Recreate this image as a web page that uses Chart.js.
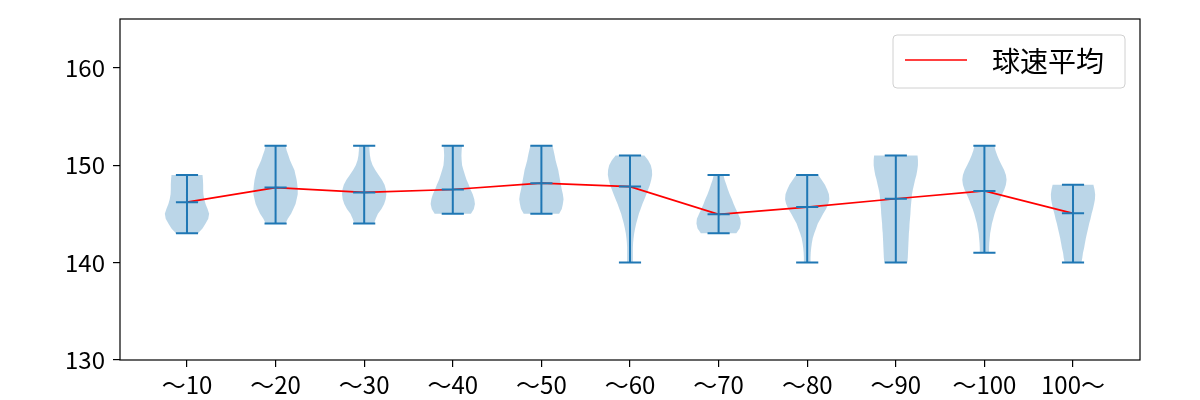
<!DOCTYPE html>
<html><head><meta charset="utf-8">
<script src="https://cdn.jsdelivr.net/npm/chart.js@4.4.1/dist/chart.umd.min.js"></script>
<style>html,body{margin:0;padding:0;background:#fff}</style>
</head><body>
<canvas id="c" width="1200" height="400"></canvas>
<script>
const categories = ['～10','～20','～30','～40','～50','～60','～70','～80','～90','～100','100～'];
const speedMin  = [143,144,144,145,145,140,143,140,140,141,140];
const speedMax  = [149,152,152,152,152,151,149,149,151,152,148];
const speedMean = [146.2,147.7,147.2,147.5,148.15,147.8,144.95,145.7,146.55,147.35,145.05];
const yTicks = [130,140,150,160];
const densityStep = 0.5;
// relative density (1 = widest) from min to max in 0.5 km/h steps
const density10  = [0.5,0.7,0.84,0.96,1.0,0.93,0.84,0.78,0.74,0.73,0.73,0.72,0.7];
const density20  = [0.45,0.55,0.7,0.8,0.9,0.95,1.0,1.0,0.98,0.95,0.9,0.85,0.75,0.65,0.58,0.5,0.45];
const density30  = [0.45,0.52,0.62,0.78,0.9,0.97,1.0,0.98,0.92,0.8,0.65,0.5,0.38,0.3,0.26,0.24,0.23];
const density40  = [0.82,0.95,1.0,0.97,0.9,0.8,0.72,0.62,0.55,0.48,0.42,0.4,0.39,0.4,0.42];
const density50  = [0.8,0.92,0.97,1.0,0.97,0.92,0.88,0.84,0.8,0.76,0.7,0.64,0.6,0.55,0.5];
const density60  = [0.13,0.13,0.13,0.13,0.14,0.16,0.19,0.23,0.28,0.34,0.4,0.48,0.56,0.65,0.74,0.82,0.9,0.96,1.0,0.99,0.94,0.82,0.65];
const density70  = [0.8,0.95,1.0,0.98,0.88,0.78,0.68,0.6,0.5,0.42,0.35,0.27,0.22];
const density80  = [0.15,0.15,0.16,0.18,0.21,0.25,0.32,0.4,0.48,0.6,0.72,0.85,0.95,1.0,0.98,0.9,0.8,0.65,0.5];
const density90  = [0.52,0.54,0.55,0.56,0.57,0.58,0.59,0.61,0.62,0.64,0.66,0.67,0.69,0.71,0.73,0.77,0.82,0.87,0.93,0.97,1.0,1.0,0.98];
const density100 = [0.21,0.21,0.22,0.24,0.26,0.3,0.34,0.4,0.46,0.53,0.62,0.7,0.8,0.9,0.97,1.0,0.97,0.89,0.78,0.67,0.58,0.5,0.45];
const densityOver= [0.38,0.42,0.45,0.5,0.54,0.58,0.63,0.68,0.73,0.79,0.84,0.9,0.95,0.99,1.0,0.97,0.92];
const densities = [density10,density20,density30,density40,density50,density60,density70,density80,density90,density100,densityOver];

const HALF = 0.25, CAP = 0.125;
const BLUE = '#1f77b4';
const FONT = '"Noto Sans CJK JP", "Noto Sans", sans-serif';

// violin polygons
const violinSets = densities.map((d, i) => {
  const c = i + 1, pts = [];
  d.forEach((w, k) => pts.push({x: c + w * HALF, y: speedMin[i] + k * densityStep}));
  for (let k = d.length - 1; k >= 0; k--) pts.push({x: c - d[k] * HALF, y: speedMin[i] + k * densityStep});
  return {type:'scatter', violin:true, data:pts, showLine:false, pointRadius:0, pointHoverRadius:0,
          backgroundColor:'rgba(31,119,180,0.3)', borderWidth:0};
});
// vertical bars and caps
const capPts = [];
categories.forEach((_, i) => {
  const c = i + 1, gap = {x:null, y:null};
  capPts.push({x:c, y:speedMin[i]}, {x:c, y:speedMax[i]}, gap);
  [speedMin[i], speedMax[i], speedMean[i]].forEach(v => capPts.push({x:c-CAP, y:v}, {x:c+CAP, y:v}, gap));
});
const capSet = {type:'scatter', data:capPts, showLine:true, spanGaps:false, borderColor:BLUE, borderWidth:2,
  pointRadius:0, pointHoverRadius:0, borderCapStyle:'butt'};
const meanSet = {type:'scatter', label:'球速平均', data:speedMean.map((v,i)=>({x:i+1,y:v})), showLine:true,
  borderColor:'#ff0000', backgroundColor:'#ff0000', borderWidth:1.7, pointRadius:0, pointHoverRadius:0};

const violinFill = {
  id:'violinFill',
  beforeDatasetsDraw(chart) {
    const ctx = chart.ctx, a = chart.chartArea;
    ctx.save();
    ctx.beginPath(); ctx.rect(a.left, a.top, a.right-a.left, a.bottom-a.top); ctx.clip();
    chart.data.datasets.forEach((ds, i) => {
      if (!ds.violin) return;
      const pts = chart.getDatasetMeta(i).data;
      ctx.beginPath();
      pts.forEach((p, k) => k ? ctx.lineTo(p.x, p.y) : ctx.moveTo(p.x, p.y));
      ctx.closePath();
      ctx.fillStyle = ds.backgroundColor;
      ctx.fill();
    });
    ctx.restore();
  }
};
const frameAndLegend = {
  id:'frameAndLegend',
  afterDraw(chart) {
    const ctx = chart.ctx, a = chart.chartArea;
    ctx.save();
    ctx.strokeStyle = '#000'; ctx.lineWidth = 1.2;
    ctx.strokeRect(a.left, a.top, a.right - a.left, a.bottom - a.top);
    // legend
    const ds = chart.data.datasets.find(d => d.label);
    const bx = a.right - 247, by = a.top + 16, bw = 232, bh = 53, r = 4;
    ctx.beginPath();
    ctx.moveTo(bx + r, by); ctx.arcTo(bx+bw, by, bx+bw, by+bh, r); ctx.arcTo(bx+bw, by+bh, bx, by+bh, r);
    ctx.arcTo(bx, by+bh, bx, by, r); ctx.arcTo(bx, by, bx+bw, by, r); ctx.closePath();
    ctx.fillStyle = 'rgba(255,255,255,0.8)'; ctx.fill();
    ctx.strokeStyle = '#d0d0d0'; ctx.lineWidth = 1; ctx.stroke();
    ctx.beginPath(); ctx.moveTo(bx + 12, by + 25); ctx.lineTo(bx + 74, by + 25);
    ctx.strokeStyle = ds.borderColor; ctx.lineWidth = ds.borderWidth; ctx.stroke();
    ctx.fillStyle = '#000'; ctx.font = '28px ' + FONT; ctx.textBaseline = 'middle'; ctx.textAlign = 'left';
    ctx.fillText(ds.label, bx + 99, by + 26);
    ctx.restore();
  }
};

new Chart(document.getElementById('c'), {
  type:'scatter',
  data:{datasets:[...violinSets, capSet, meanSet]},
  options:{
    responsive:false, animation:false, devicePixelRatio:1,
    layout:{padding:{top:19, right:60, left:0, bottom:0}},
    plugins:{legend:{display:false}, tooltip:{enabled:false}},
    scales:{
      x:{type:'linear', min:0.244, max:11.756,
         afterBuildTicks: s => { s.ticks = categories.map((_, i) => ({value: i + 1})); },
         afterFit: s => { s.height = 40; s.paddingLeft = 0; s.paddingRight = 0; },
         ticks:{callback:(v, i) => categories[i], color:'#000', font:{family:FONT, size:24}, padding:3, maxRotation:0, autoSkip:false},
         grid:{drawOnChartArea:false, drawTicks:true, tickLength:7, color:'#000', lineWidth:1.2},
         border:{display:false}},
      y:{type:'linear', min:130, max:165,
         afterBuildTicks: s => { s.ticks = yTicks.map(v => ({value: v})); },
         afterFit: s => { s.width = 120; s.paddingTop = 0; s.paddingBottom = 0; },
         ticks:{color:'#000', font:{family:FONT, size:24}, padding:8},
         grid:{drawOnChartArea:false, drawTicks:true, tickLength:7, color:'#000', lineWidth:1.2},
         border:{display:false}}
    }
  },
  plugins:[violinFill, frameAndLegend]
});
</script>
</body></html>
